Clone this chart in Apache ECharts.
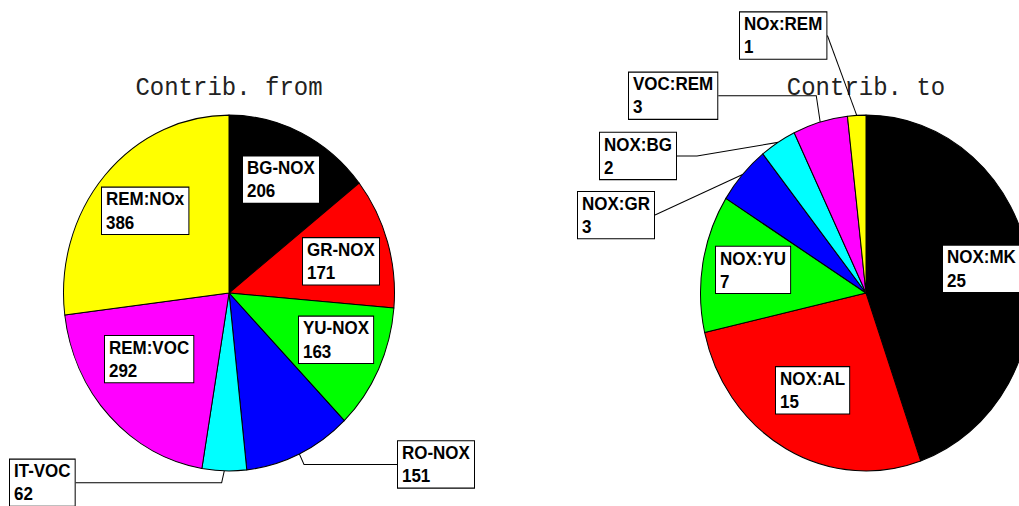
<!DOCTYPE html>
<html>
<head>
<meta charset="utf-8">
<script src="https://cdn.jsdelivr.net/npm/echarts@6/dist/echarts.min.js"></script>
<style>
  html, body { margin: 0; padding: 0; background: #fff; overflow: hidden; }
  /* the original pies are slightly taller than wide */
  #main { width: 1019px; height: 506px; transform: scaleY(1.075); transform-origin: 0 293px; }
</style>
</head>
<body>
<div id="main"></div>
<script>
var fromNames = ['BG-NOX', 'GR-NOX', 'YU-NOX', 'RO-NOX', 'IT-VOC', 'REM:VOC', 'REM:NOx'];
var fromValues = [206, 171, 163, 151, 62, 292, 386];
var toNames = ['NOX:MK', 'NOX:AL', 'NOX:YU', 'NOX:GR', 'NOX:BG', 'VOC:REM', 'NOx:REM'];
var toValues = [25, 15, 7, 3, 2, 3, 1];
var sliceColors = ['#000000', '#ff0000', '#00ff00', '#0000ff', '#00ffff', '#ff00ff', '#ffff00'];

// label boxes, top-left corner in chart px (before the vertical stretch)
// out = placed outside with a leader line, len = horizontal part of that line
var fromLabels = [
  { x: 243, y: 166 },
  { x: 303, y: 242 },
  { x: 299, y: 315 },
  { x: 398, y: 431, out: true, len: 93 },
  { x: 10, y: 448, out: true, len: 146 },
  { x: 105, y: 333 },
  { x: 102, y: 195 }
];
var toLabels = [
  { x: 943, y: 249 },
  { x: 776, y: 362 },
  { x: 716, y: 250 },
  { x: 578, y: 199, out: true, len: 0 },
  { x: 600, y: 144, out: true, len: 20 },
  { x: 629, y: 88, out: true, len: 98 },
  { x: 740, y: 32, out: true, len: 0 }
];

function buildData(names, values, labels) {
  return names.map(function (n, i) {
    var lb = labels[i];
    return {
      name: n,
      value: values[i],
      itemStyle: { color: sliceColors[i] },
      label: { position: lb.out ? 'outside' : 'inside' },
      labelLine: { show: !!lb.out, length: 10, length2: lb.len || 0 }
    };
  });
}

function pieSeries(center, names, values, labels) {
  return {
    type: 'pie',
    center: center,
    radius: 165.5,
    startAngle: 90,
    clockwise: true,
    avoidLabelOverlap: false,
    animation: false,
    itemStyle: { borderColor: '#000', borderWidth: 1 },
    label: {
      show: true,
      formatter: '{b}\n{c}',
      color: '#000',
      fontFamily: '"Liberation Sans", Arial, sans-serif',
      fontSize: 17,
      fontWeight: 'bold',
      lineHeight: 21.5,
      backgroundColor: '#fff',
      borderColor: '#000',
      borderWidth: 1,
      padding: [0, 4, 0, 4],
      align: 'left'
    },
    labelLine: { smooth: false, lineStyle: { color: '#000', width: 1 } },
    emphasis: { disabled: true },
    data: buildData(names, values, labels),
    labelLayout: function (p) {
      var lb = labels[p.dataIndex];
      return { x: lb.x, y: lb.y, align: 'left', verticalAlign: 'top' };
    }
  };
}

var myChart = echarts.init(document.getElementById('main'), null, { renderer: 'svg' });
myChart.setOption({
  backgroundColor: '#fff',
  animation: false,
  graphic: [
    { type: 'text', x: 229, y: 102, style: { text: 'Contrib. from', fontFamily: '"Liberation Mono", "Courier New", monospace', fontSize: 24, align: 'center', verticalAlign: 'middle', fill: '#222' } },
    { type: 'text', x: 866, y: 102, style: { text: 'Contrib. to', fontFamily: '"Liberation Mono", "Courier New", monospace', fontSize: 24, align: 'center', verticalAlign: 'middle', fill: '#222' } }
  ],
  series: [
    pieSeries([229, 293], fromNames, fromValues, fromLabels),
    pieSeries([866, 293], toNames, toValues, toLabels)
  ]
});
</script>
</body>
</html>
